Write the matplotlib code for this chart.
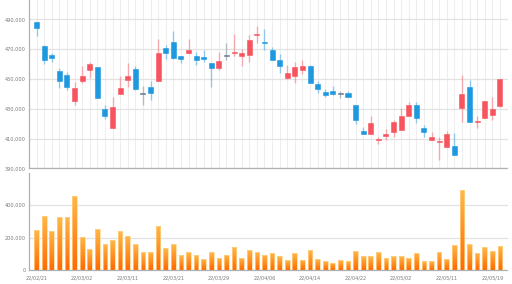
import numpy as np
import matplotlib
matplotlib.use('Agg')
import matplotlib.pyplot as plt
from matplotlib.colors import LinearSegmentedColormap

# daily OHLC, in thousands of won
opens = [488.5, 472.3, 466.2, 455.2, 452.8, 435.3, 448.7, 455.7, 457.7, 430.0,
         417.0, 439.8, 449.4, 457.0, 440.0, 444.3, 448.7, 471.1, 474.7, 465.5,
         467.3, 465.5, 464.9, 461.0, 457.3, 465.5, 467.1, 465.5, 466.2, 479.2,
         474.9, 469.1, 462.8, 450.5, 452.3, 455.7, 459.0, 446.7, 440.9, 442.0,
         440.4, 440.4, 432.6, 415.1, 413.1, 409.3, 412.0, 414.7, 415.4, 425.2,
         432.6, 416.9, 409.1, 407.8, 404.2, 405.1, 430.4, 444.9, 421.0, 423.7,
         425.9, 431.9]
highs = [489.0, 472.5, 467.3, 457.2, 454.6, 448.1, 458.4, 461.1, 458.2, 432.6,
         437.8, 452.1, 460.6, 458.4, 445.4, 448.7, 476.7, 472.9, 481.9, 465.5,
         476.7, 467.8, 469.6, 461.0, 468.4, 474.0, 480.3, 470.0, 479.6, 485.8,
         483.6, 471.3, 466.6, 459.5, 461.7, 462.4, 459.5, 448.7, 443.1, 445.3,
         442.0, 442.0, 432.6, 418.0, 424.8, 411.3, 416.5, 422.1, 430.4, 434.8,
         434.8, 419.2, 414.7, 410.7, 415.2, 414.0, 452.7, 449.4, 424.8, 435.5,
         437.7, 449.8]
lows = [478.5, 459.7, 461.3, 443.8, 442.7, 432.6, 447.6, 450.5, 437.0, 423.2,
        417.0, 439.8, 444.9, 442.7, 432.6, 436.0, 448.7, 463.3, 463.3, 460.6,
        466.6, 459.5, 461.7, 444.5, 455.7, 462.8, 465.1, 458.4, 461.1, 474.0,
        469.6, 462.4, 453.9, 449.9, 447.2, 453.4, 447.2, 440.5, 438.2, 439.5,
        437.1, 437.7, 419.9, 413.1, 413.1, 406.4, 409.1, 411.3, 415.4, 425.2,
        420.3, 410.9, 409.1, 395.7, 404.2, 399.0, 421.4, 421.0, 417.0, 423.7,
        422.5, 431.0]
closes = [484.2, 462.8, 464.2, 448.7, 444.3, 443.6, 452.1, 459.9, 437.3, 424.8,
          430.9, 443.6, 452.1, 443.2, 440.0, 440.5, 467.3, 467.3, 464.0, 463.3,
          469.1, 462.8, 463.7, 457.3, 462.2, 465.5, 468.0, 467.3, 476.3, 480.3,
          474.3, 462.4, 458.4, 453.9, 457.9, 458.8, 447.2, 443.4, 438.9, 440.0,
          440.4, 437.7, 422.5, 413.1, 420.3, 410.0, 412.9, 421.4, 425.2, 432.6,
          423.7, 414.3, 410.9, 408.2, 412.9, 399.0, 439.8, 421.0, 421.9, 435.5,
          429.7, 449.8]
# volume, in thousands of shares
volumes = [246, 332, 242, 324, 328, 457, 205, 127, 252, 162,
           187, 238, 211, 160, 109, 113, 271, 133, 158, 90,
           109, 90, 70, 109, 74, 94, 141, 74, 125, 113,
           94, 105, 86, 60, 103, 64, 121, 66, 53, 45,
           60, 55, 117, 86, 86, 109, 72, 86, 86, 74,
           105, 55, 55, 111, 70, 154, 494, 160, 107, 141,
           117, 148]
date_labels = ['22/02/21', '22/03/02', '22/03/11', '22/03/21', '22/03/29', '22/04/06',
               '22/04/14', '22/04/22', '22/05/02', '22/05/11', '22/05/19']

o = np.array(opens) * 1000
h = np.array(highs) * 1000
l = np.array(lows) * 1000
c = np.array(closes) * 1000
v = np.array(volumes) * 1000
x = np.arange(len(o))

up_col, down_col, flat_col = '#f7545f', '#1e98de', '#6a7b8c'
cols = [up_col if cc > oo else down_col if cc < oo else flat_col for oo, cc in zip(o, c)]

fig = plt.figure(figsize=(5.12, 2.84), dpi=100)
ax = fig.add_axes([29/512, 1 - 168.3/284, 478.5/512, 168.3/284])
axv = fig.add_axes([29/512, 1 - 270/284, 478.5/512, 97.5/284])

for a in (ax, axv):
    for s in ('top', 'right'):
        a.spines[s].set_visible(False)
    for s in ('left', 'bottom'):
        a.spines[s].set_color('#b0b0b0')
        a.spines[s].set_linewidth(0.9)
    a.set_xlim(-1, 62)
    a.tick_params(length=0, labelsize=3.6, labelcolor='#7a7a7a')
    a.set_axisbelow(True)

# price panel
ax.vlines(x, l, h, colors=cols, linewidth=1.0, alpha=0.45, zorder=2)
body_lo = np.minimum(o, c)
body_h = np.maximum(np.abs(c - o), 500)
ax.bar(x, body_h, bottom=body_lo - np.where(c == o, 250, 0), width=0.66,
       color=cols, edgecolor=cols, linewidth=0.4, zorder=3)
ax.set_ylim(390000, 503000)
ax.set_yticks(np.arange(390000, 500000, 20000))
ax.set_yticklabels([f'{t:,}' for t in range(390000, 500000, 20000)])
ax.set_xticks(x)
ax.set_xticklabels([])
ax.grid(axis='y', color='#e2e2e2', linewidth=0.9)
ax.grid(axis='x', color='#eeeeee', linewidth=0.8)
ax.tick_params(axis='y', pad=2.5)

# volume panel with orange gradient bars
cmap = LinearSegmentedColormap.from_list('vol', ['#ff6a00', '#ffb84a'])
grad = np.linspace(1, 0, 100).reshape(-1, 1)
bars = axv.bar(x, v, width=0.62, color='none', edgecolor='#ffd58c', linewidth=0.5, zorder=3)
for b in bars:
    x0, y0 = b.get_x(), b.get_y()
    im = axv.imshow(grad, extent=[x0, x0 + b.get_width(), y0, y0 + b.get_height()],
                    aspect='auto', cmap=cmap, vmin=0, vmax=1, zorder=2)
    im.set_clip_path(b)
axv.set_xlim(-1, 62)
axv.set_ylim(0, 600000)
axv.set_yticks([0, 200000, 400000])
axv.set_yticklabels(['0', '200,000', '400,000'])
axv.set_xticks(x[::6])
axv.set_xticklabels(date_labels)
axv.grid(axis='y', color='#e2e2e2', linewidth=0.9)
axv.tick_params(axis='x', pad=3.6)
axv.tick_params(axis='y', pad=2.5)

plt.savefig('out.png', dpi=100)
